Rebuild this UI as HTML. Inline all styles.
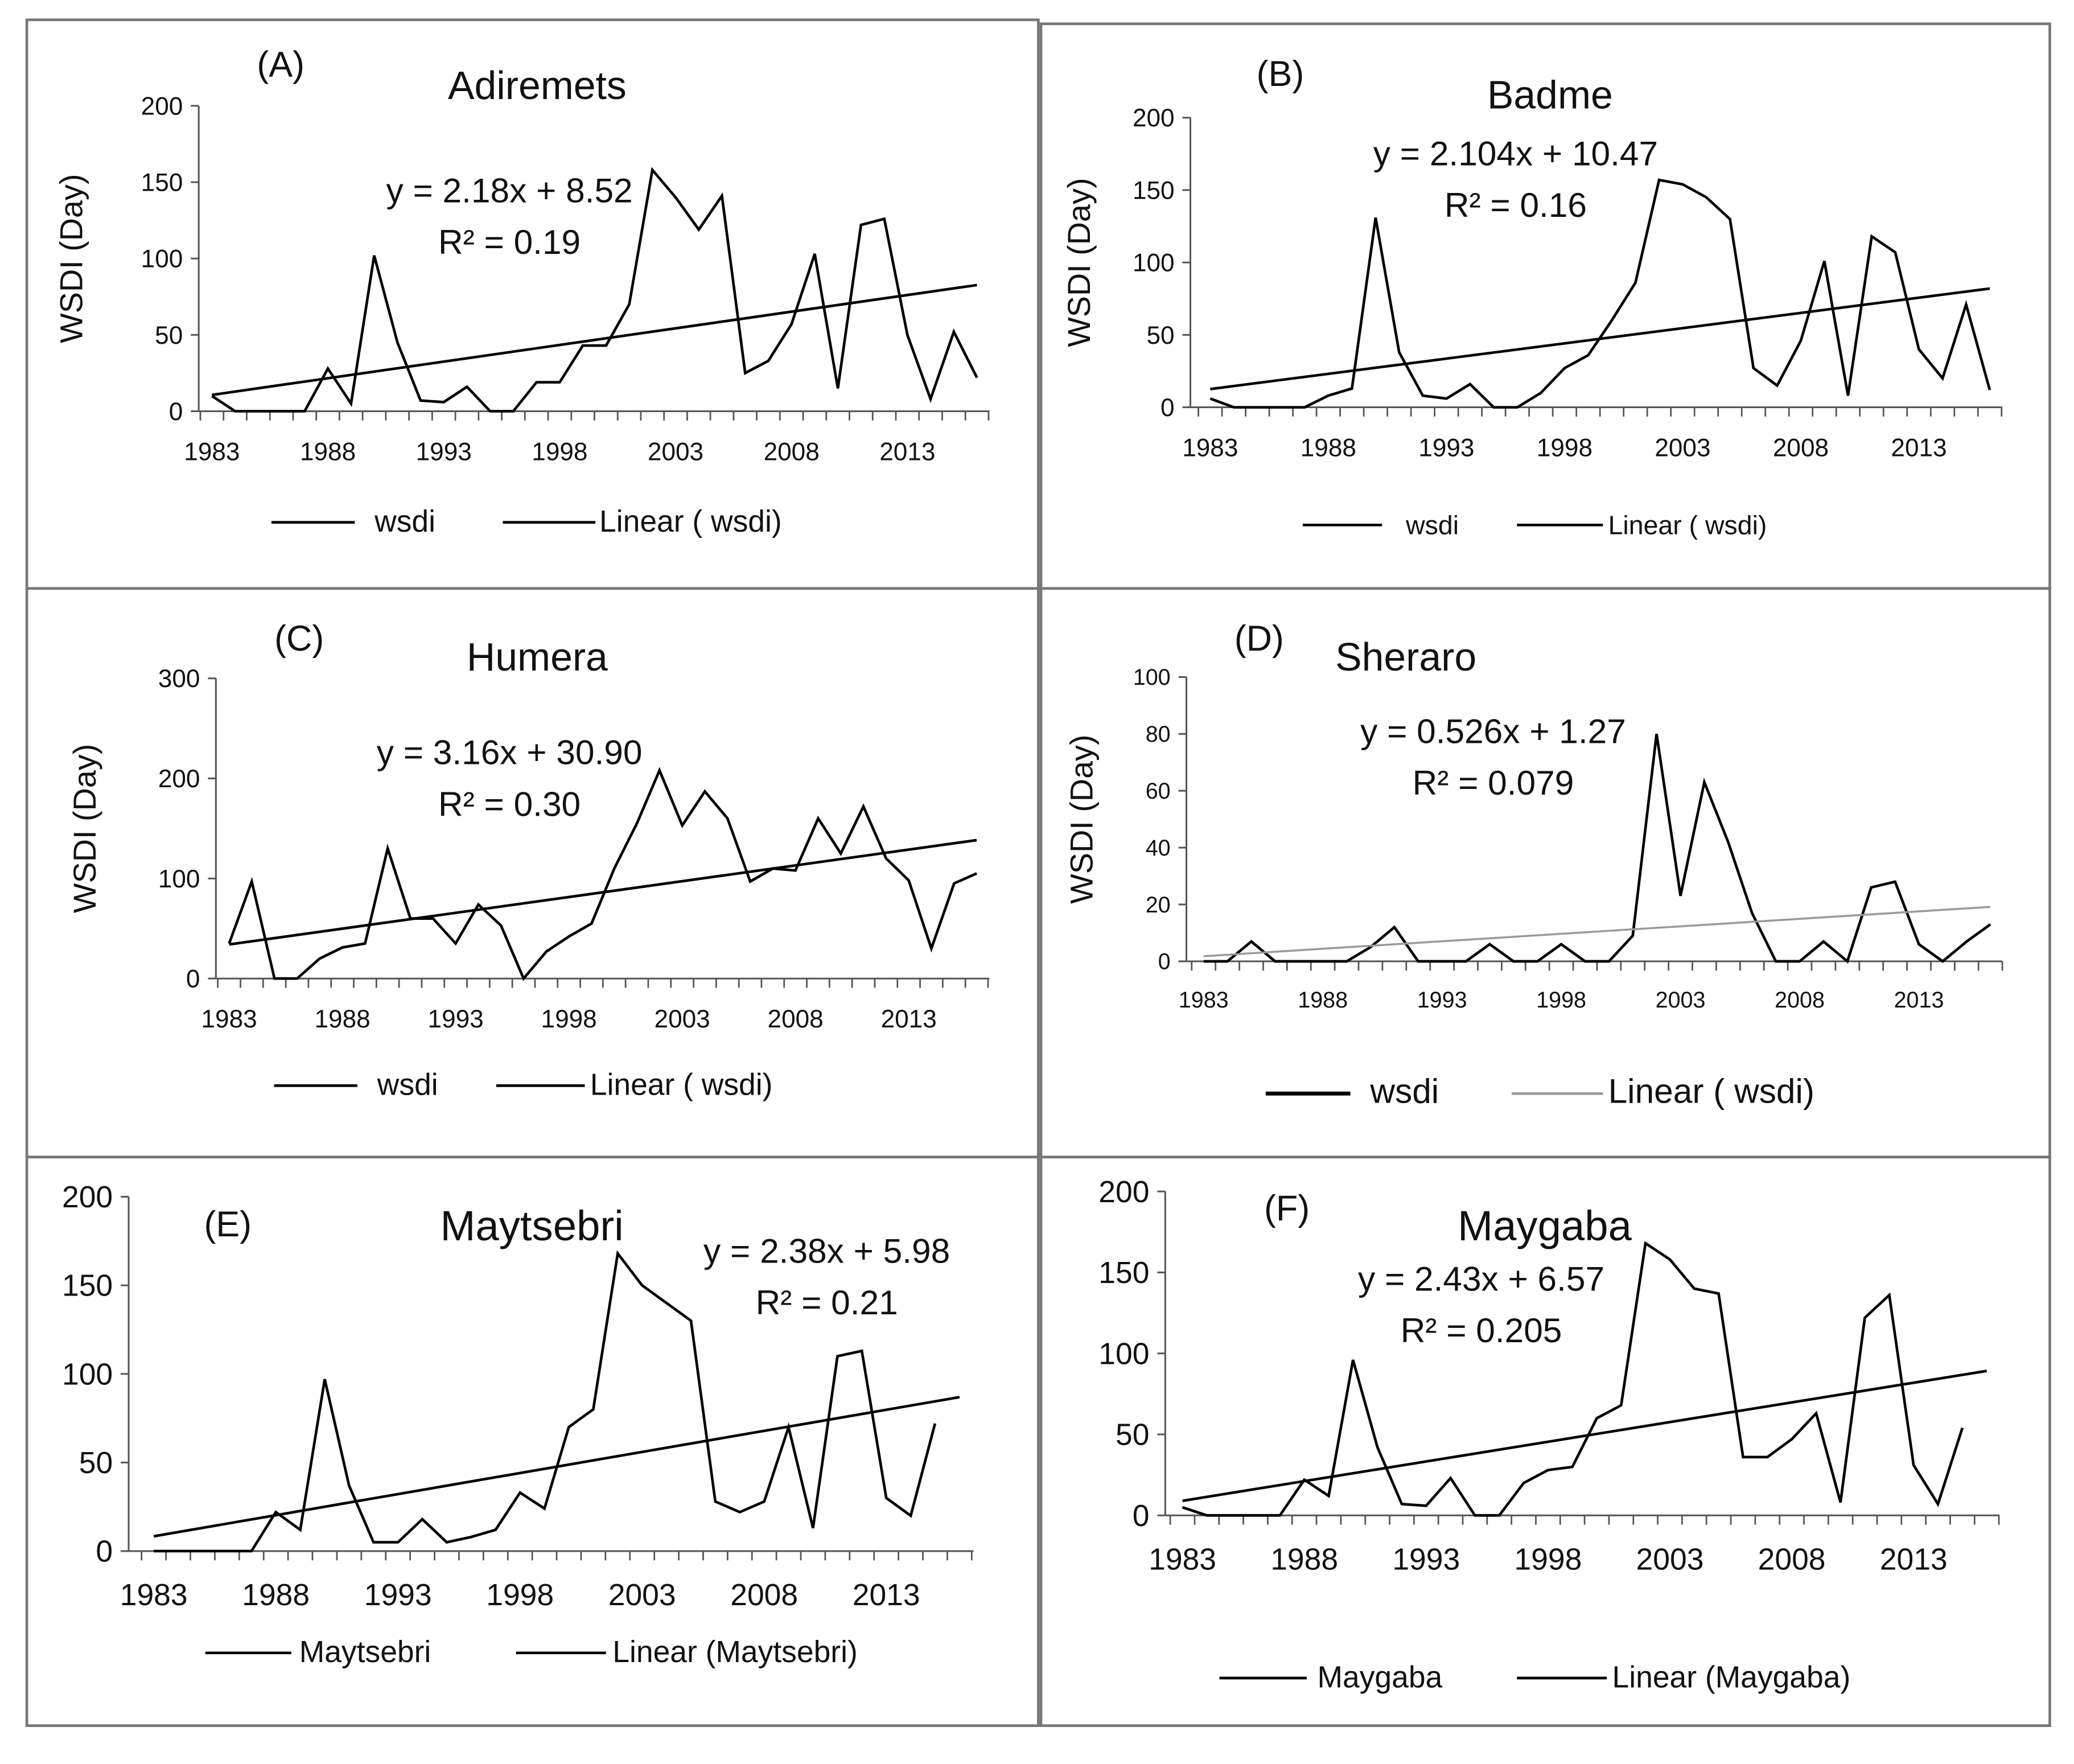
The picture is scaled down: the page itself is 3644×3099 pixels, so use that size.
<!DOCTYPE html>
<html><head><meta charset="utf-8"><style>
html,body{margin:0;padding:0;background:#fff}
svg{display:block}
text{font-family:"Liberation Sans",sans-serif;fill:#111}
</style></head><body>
<svg id="chart" width="3644" height="3099" viewBox="0 0 1568 1334" xmlns="http://www.w3.org/2000/svg"></svg>
<script>
const years = [1983,1984,1985,1986,1987,1988,1989,1990,1991,1992,1993,1994,1995,1996,1997,1998,1999,2000,2001,2002,2003,2004,2005,2006,2007,2008,2009,2010,2011,2012,2013,2014,2015,2016];
const tickYears = [1983,1988,1993,1998,2003,2008,2013];
const seriesA = [10,0,0,0,0,28,5,102,45,7,6,16,0,0,19,19,43,43,70,158,140,119,141,25,33,57,103,15,122,126,50,8,52,22];
const seriesB = [6,0,0,0,0,8,13,131,38,8,6,16,0,0,10,27,36,60,86,157,154,145,130,27,15,46,101,8,118,107,40,20,71,12];
const seriesC = [35,97,0,0,20,31,35,130,60,60,35,74,53,0,27,42,55,110,155,208,153,187,160,97,110,108,160,125,172,120,98,30,95,105];
const seriesD = [0,0,7,0,0,0,0,5,12,0,0,0,6,0,0,6,0,0,9,80,23,63,42,17,0,0,7,0,26,28,6,0,7,13];
const seriesE = [0,0,0,0,0,22,12,97,37,5,5,18,5,8,12,33,24,70,80,168,150,140,130,28,22,28,70,13,110,113,30,20,72];
const seriesF = [5,0,0,0,0,22,12,96,42,7,6,23,0,0,20,28,30,60,68,168,158,140,137,36,36,47,63,8,122,136,31,7,54];
const trendA = [2.18, 8.52], trendB = [2.104, 10.47], trendC = [3.16, 30.90], trendD = [0.526, 1.27], trendE = [2.38, 5.98], trendF = [2.43, 6.57];
const ticksA = [0,50,100,150,200], ticksC = [0,100,200,300], ticksD = [0,20,40,60,80,100];

const NS = "http://www.w3.org/2000/svg";
const svg = document.getElementById('chart');
function mk(tag, attrs, parent, txt){
  const e = document.createElementNS(NS, tag);
  for (const k in attrs) e.setAttribute(k, attrs[k]);
  if (txt !== undefined) e.textContent = txt;
  (parent || svg).appendChild(e);
  return e;
}
const panels = [
  {id:'a',box:[20,15,765,430],label:'(A)',lx:212,ly:58,title:'Adiremets',tx:406,ty:75,tfs:30,ax:150,y0:311,yTop:80,ymax:200,ticks:ticksA,x0:160,x13:686,xEnd:748,data:seriesA,tr:trendA,eq:'y = 2.18x + 8.52',r2:'R² = 0.19',ex:385,ey:153,efs:26,ylab:true,ylx:62,tfsz:19,leg:[{x1:205,x2:268,t:'wsdi',tx:283},{x1:380,x2:450,t:'Linear ( wsdi)',tx:453}],legy:402,legfs:23,trEnd:34},
  {id:'b',box:[787,18,763,427],label:'(B)',lx:968,ly:65,title:'Badme',tx:1172,ty:82,tfs:30,ax:900,y0:308,yTop:89,ymax:200,ticks:ticksA,x0:915,x13:1451,xEnd:1514,data:seriesB,tr:trendB,eq:'y = 2.104x + 10.47',r2:'R² = 0.16',ex:1146,ey:125,efs:26,ylab:true,ylx:824,tfsz:19,leg:[{x1:985,x2:1045,t:'wsdi',tx:1063},{x1:1147,x2:1212,t:'Linear ( wsdi)',tx:1216}],legy:404,legfs:20,trEnd:34},
  {id:'c',box:[20,445,765,430],label:'(C)',lx:226,ly:492,title:'Humera',tx:406,ty:507,tfs:30,ax:163,y0:740,yTop:513,ymax:300,ticks:ticksC,x0:173,x13:687,xEnd:748,data:seriesC,tr:trendC,eq:'y = 3.16x + 30.90',r2:'R² = 0.30',ex:385,ey:578,efs:26,ylab:true,ylx:72,tfsz:19,leg:[{x1:207,x2:270,t:'wsdi',tx:285},{x1:375,x2:442,t:'Linear ( wsdi)',tx:446}],legy:828,legfs:23,trEnd:34},
  {id:'d',box:[787,445,763,430],label:'(D)',lx:952,ly:492,title:'Sheraro',tx:1063,ty:507,tfs:30,ax:897,y0:727,yTop:512,ymax:100,ticks:ticksD,x0:910,x13:1451,xEnd:1514,data:seriesD,tr:trendD,eq:'y = 0.526x + 1.27',r2:'R² = 0.079',ex:1129,ey:562,efs:26,ylab:true,ylx:826,tfsz:17,leg:[{x1:957,x2:1021,t:'wsdi',tx:1036,w:3},{x1:1143,x2:1212,t:'Linear ( wsdi)',tx:1216,gray:true}],legy:834,legfs:26,trEnd:34,gray:true},
  {id:'e',box:[20,875,765,430],label:'(E)',lx:172,ly:935,title:'Maytsebri',tx:402,ty:938,tfs:32,ax:97,y0:1173,yTop:905,ymax:200,ticks:ticksA,x0:116,x13:670,xEnd:736,data:seriesE,tr:trendE,eq:'y = 2.38x + 5.98',r2:'R² = 0.21',ex:625,ey:955,efs:26,ylab:false,tfsz:23,leg:[{x1:155,x2:220,t:'Maytsebri',tx:226},{x1:390,x2:458,t:'Linear (Maytsebri)',tx:463}],legy:1257,legfs:23,trEnd:34},
  {id:'f',box:[787,875,763,430],label:'(F)',lx:973,ly:923,title:'Maygaba',tx:1168,ty:938,tfs:32,ax:881,y0:1146,yTop:901,ymax:200,ticks:ticksA,x0:894,x13:1447,xEnd:1512,data:seriesF,tr:trendF,eq:'y = 2.43x + 6.57',r2:'R² = 0.205',ex:1120,ey:976,efs:26,ylab:false,tfsz:23,leg:[{x1:922,x2:988,t:'Maygaba',tx:996},{x1:1147,x2:1215,t:'Linear (Maygaba)',tx:1219}],legy:1276,legfs:23,trEnd:34}
];
panels.forEach(p=>{
  const g = mk('g',{});
  
  
  const r = mk('rect',{x:p.box[0],y:p.box[1],width:p.box[2],height:p.box[3],fill:'none',stroke:'#777','stroke-width':2},g);
  
  
  const step = (p.x13-p.x0)/30;
  const X = yr => p.x0 + (yr-1983)*step;
  const Xi = i => p.x0 + (i-1)*step;
  const Y = v => p.y0 - v/p.ymax*(p.y0-p.yTop);
  // axes
  const ya = mk('line',{x1:p.ax,y1:p.yTop,x2:p.ax,y2:p.y0,stroke:'#555','stroke-width':1.3},g);
  
  
  const xa = mk('line',{x1:p.ax,y1:p.y0,x2:p.xEnd,y2:p.y0,stroke:'#555','stroke-width':1.3},g);
  
  
  p.ticks.forEach(t=>{
    mk('line',{x1:p.ax-6,y1:Y(t),x2:p.ax,y2:Y(t),stroke:'#555','stroke-width':1.3},g);
    const tl = mk('text',{x:p.ax-12,y:Y(t)+p.tfsz*0.35,'text-anchor':'end','font-size':p.tfsz},g,String(t));
    
    
  });
  for (let i=0;i<=34;i++){
    const x = p.x0 - step/2 + i*step;
    if (x > p.xEnd+1) break;
    mk('line',{x1:x,y1:p.y0,x2:x,y2:p.y0+7,stroke:'#555','stroke-width':1.2},g);
  }
  tickYears.forEach(yr=>{
    const tl = mk('text',{x:X(yr),y:p.y0+p.tfsz+18,'text-anchor':'middle','font-size':p.tfsz},g,String(yr));
    
    
  });
  // series
  const pts = p.data.map((v,i)=>X(years[i]).toFixed(1)+','+Y(v).toFixed(1)).join(' ');
  const ln = mk('polyline',{points:pts,fill:'none',stroke:'#000','stroke-width':2},g);
  
  
  const t1 = p.tr[0]*1+p.tr[1], t2 = p.tr[0]*p.trEnd+p.tr[1];
  const tl = mk('line',{x1:Xi(1),y1:Y(t1),x2:Xi(p.trEnd),y2:Y(t2),stroke:p.gray?'#999':'#000','stroke-width':p.gray?1.5:2},g);
  
  
  // texts
  const lb = mk('text',{x:p.lx,y:p.ly,'text-anchor':'middle','font-size':27},g,p.label);
  
  
  const ti = mk('text',{x:p.tx,y:p.ty,'text-anchor':'middle','font-size':p.tfs},g,p.title);
  
  
  const eq = mk('text',{x:p.ex,y:p.ey,'text-anchor':'middle','font-size':p.efs},g,p.eq);
  
  
  const r2 = mk('text',{x:p.ex,y:p.ey+39,'text-anchor':'middle','font-size':p.efs},g,p.r2);
  
  
  if (p.ylab){
    const cy = (p.y0+p.yTop)/2;
    const yl = mk('text',{x:p.ylx,y:cy,'text-anchor':'middle','font-size':24,transform:'rotate(-90 '+p.ylx+' '+cy+')'},g,'WSDI (Day)');
    
    
  }
  p.leg.forEach(l=>{
    const lg = mk('g',{},g);
    
    
    mk('line',{x1:l.x1,y1:p.legy-7,x2:l.x2,y2:p.legy-7,stroke:l.gray?'#999':'#000','stroke-width':l.w||2},lg);
    mk('text',{x:l.tx,y:p.legy,'font-size':p.legfs},lg,l.t);
  });
});
</script>
</body></html>
